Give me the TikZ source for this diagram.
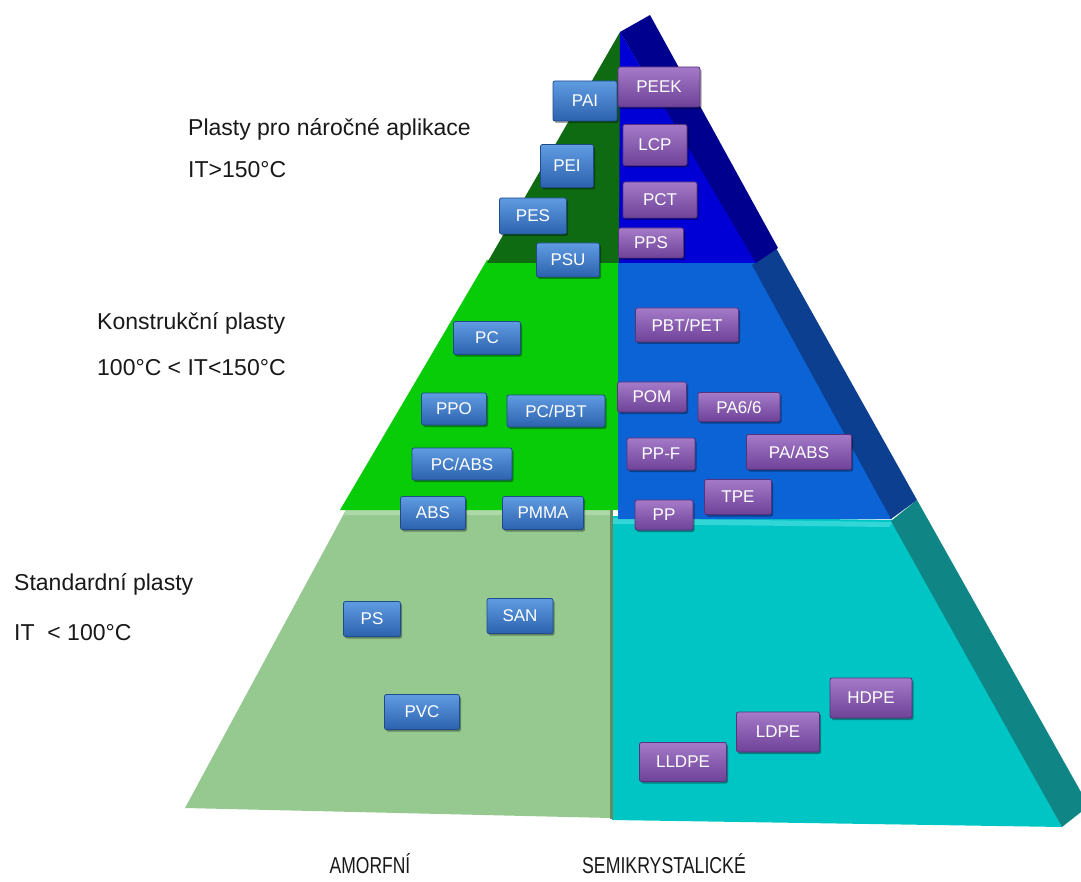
\documentclass[tikz,border=0pt]{standalone}
\usepackage{fontspec}
\setmainfont{Liberation Sans}
\usetikzlibrary{shadows}
\definecolor{dgreen}{RGB}{14,107,18}
\definecolor{tblue}{RGB}{0,0,214}
\definecolor{tnavy}{RGB}{0,0,142}
\definecolor{bgreen}{RGB}{8,204,8}
\definecolor{mblue}{RGB}{11,99,214}
\definecolor{mnavy}{RGB}{12,63,143}
\definecolor{lgreen}{RGB}{149,201,143}
\definecolor{lgreentop}{RGB}{172,218,166}
\definecolor{cyanf}{RGB}{0,197,197}
\definecolor{cyantop}{RGB}{50,214,214}
\definecolor{tealf}{RGB}{15,133,133}
\definecolor{splitc}{RGB}{100,140,98}
\definecolor{bbtop}{RGB}{96,156,226}
\definecolor{bbbot}{RGB}{44,98,174}
\definecolor{bbedge}{RGB}{30,76,138}
\definecolor{pptop}{RGB}{164,122,200}
\definecolor{ppbot}{RGB}{110,66,152}
\definecolor{ppedge}{RGB}{88,50,124}
\definecolor{txt}{RGB}{25,25,25}
\tikzset{
  box/.style={rounded corners=2pt, inner sep=0pt, text=white,
    font=\fontsize{17}{17}\selectfont,
    drop shadow={shadow xshift=1.5pt, shadow yshift=-2pt, opacity=0.35, fill=black}},
  amo/.style={box, top color=bbtop, bottom color=bbbot, draw=bbedge, line width=0.8pt},
  semi/.style={box, top color=pptop, bottom color=ppbot, draw=ppedge, line width=0.8pt},
  side/.style={anchor=base west, inner sep=0pt, text=txt, font=\fontsize{23}{23}\selectfont},
  foot/.style={anchor=base, inner sep=0pt, text=txt, font=\fontsize{23}{23}\selectfont}
}
\begin{document}
\begin{tikzpicture}[x=1pt,y=-1pt]
\useasboundingbox (0,0) rectangle (1081,882);
\fill[white] (0,0) rectangle (1081,882);
% ---- base tier
\fill[lgreen] (347,508) -- (611,508) -- (611,818) -- (185,808) -- cycle;
\fill[lgreentop] (347,510) -- (610,510) -- (610,515) -- (344,515) -- cycle;
\fill[cyanf] (612,516) -- (893,520) -- (1062,827) -- (612,820) -- cycle;
\fill[cyantop] (612,518) -- (893,522) -- (889,527) -- (612,524) -- cycle;
\fill[tealf] (891,521) -- (917,500) -- (1081,792) -- (1081,812) -- (1062,827) -- cycle;
\draw[splitc, line width=3pt] (611,510) -- (611,819);
% ---- middle tier
\fill[bgreen] (487,260) -- (619,260) -- (619,510) -- (340,510) -- cycle;
\fill[mblue] (618,260) -- (755,260) -- (892,519) -- (618,519) -- cycle;
\fill[mnavy] (752,265) -- (776,248) -- (917,500) -- (891,519) -- cycle;
% ---- top tier
\fill[dgreen] (620,32) -- (620,263) -- (487,263) -- cycle;
\fill[tblue] (620,32) -- (757,263) -- (619,263) -- cycle;
\fill[tnavy] (620,32) -- (650,15) -- (778,248) -- (756,263) -- cycle;

% ---- side labels
\node[side] (l1a) at (188,136) {Plasty pro náročné aplikace};
\node[side] (l1b) at (188,178) {IT>150°C};
\node[side] (l2a) at (97,330) {Konstrukční plasty};
\node[side] (l2b) at (97,375) {100°C < IT<150°C};
\node[side] (l3a) at (14,590) {Standardní plasty};
\node[side] (l3b) at (14,640) {IT\ \ < 100°C};

% ---- bottom labels
\node[foot] (am) at (370,873) {\scalebox{0.76}[1]{AMORFNÍ}};
\node[foot] (se) at (664,873) {\scalebox{0.77}[1]{SEMIKRYSTALICKÉ}};

% ---- amorphous boxes
\node[amo, minimum width=64pt, minimum height=40pt] (pai) at (585,101) {PAI};
\node[amo, minimum width=53pt, minimum height=43pt] (pei) at (567,166) {PEI};
\node[amo, minimum width=67pt, minimum height=36pt] (pes) at (533,216) {PES};
\node[amo, minimum width=63pt, minimum height=34pt] (psu) at (568,260) {PSU};
\node[amo, minimum width=67pt, minimum height=33pt] (pc) at (487,338) {PC};
\node[amo, minimum width=65pt, minimum height=32pt] (ppo) at (454,409) {PPO};
\node[amo, minimum width=98pt, minimum height=32pt] (pcpbt) at (556,411) {PC/PBT};
\node[amo, minimum width=100pt, minimum height=32pt] (pcabs) at (462,464) {PC/ABS};
\node[amo, minimum width=65pt, minimum height=33pt] (abs) at (433,513) {ABS};
\node[amo, minimum width=81pt, minimum height=33pt] (pmma) at (543,513) {PMMA};
\node[amo, minimum width=57pt, minimum height=35pt] (ps) at (372,619) {PS};
\node[amo, minimum width=66pt, minimum height=35pt] (san) at (520,616) {SAN};
\node[amo, minimum width=75pt, minimum height=35pt] (pvc) at (422,712) {PVC};

% ---- semicrystalline boxes
\node[semi, minimum width=82pt, minimum height=40pt] (peek) at (659,87) {PEEK};
\node[semi, minimum width=64pt, minimum height=41pt] (lcp) at (655,145) {LCP};
\node[semi, minimum width=74pt, minimum height=36pt] (pct) at (660,200) {PCT};
\node[semi, minimum width=65pt, minimum height=30pt] (pps) at (651,243) {PPS};
\node[semi, minimum width=103pt, minimum height=34pt] (pbt) at (687,325) {PBT/PET};
\node[semi, minimum width=69pt, minimum height=30pt] (pom) at (652,397) {POM};
\node[semi, minimum width=82pt, minimum height=29pt] (pa66) at (739,407) {PA6/6};
\node[semi, minimum width=68pt, minimum height=32pt] (ppf) at (661,454) {PP-F};
\node[semi, minimum width=105pt, minimum height=35pt] (paabs) at (799,452) {PA/ABS};
\node[semi, minimum width=67pt, minimum height=35pt] (tpe) at (738,497) {TPE};
\node[semi, minimum width=58pt, minimum height=30pt] (pp) at (664,515) {PP};
\node[semi, minimum width=82pt, minimum height=40pt] (hdpe) at (871,698) {HDPE};
\node[semi, minimum width=83pt, minimum height=40pt] (ldpe) at (778,732) {LDPE};
\node[semi, minimum width=87pt, minimum height=39pt] (lldpe) at (683,762) {LLDPE};
\end{tikzpicture}
\end{document}
